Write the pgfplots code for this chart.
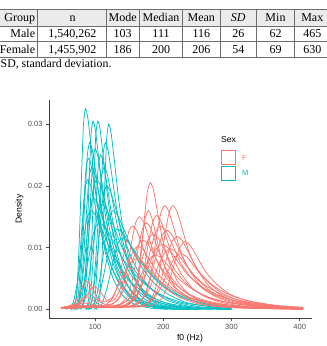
\documentclass[border=0pt]{standalone}
\usepackage{fontspec}
\setmainfont{Liberation Serif}
\setsansfont{Liberation Sans}
\usepackage{pgfplots}
\pgfplotsset{compat=1.18}
\definecolor{fcol}{HTML}{F8766D}
\definecolor{mcol}{HTML}{00BFC4}
\definecolor{ticktxt}{HTML}{4D4D4D}
\definecolor{tablerule}{HTML}{6E6E6E}
\begin{document}
\begin{tikzpicture}
\useasboundingbox (0,0) rectangle (327pt,-346pt);

% ---------------- summary table ----------------
\fill[gray!16] (-5pt,-9.3pt) rectangle (335pt,-26pt);
\draw[tablerule, line width=1.1pt] (-5pt,-9.3pt) -- (335pt,-9.3pt);
\draw[tablerule, line width=0.8pt] (-5pt,-26pt) -- (335pt,-26pt);
\draw[tablerule, line width=0.8pt] (-5pt,-41.7pt) -- (335pt,-41.7pt);
\draw[tablerule, line width=1.1pt] (-5pt,-57.3pt) -- (335pt,-57.3pt);
\foreach \vx in {37.3,106,139.3,182.7,220,256.7,294.3}
  \draw[tablerule, line width=0.8pt] (\vx pt,-9.3pt) -- (\vx pt,-57.3pt);
\begin{scope}[every node/.style={font=\fontsize{12}{14}\selectfont, inner sep=0pt}]
\node[anchor=base east] at (35.3pt,-21.7pt) {Group};
\node[anchor=base east] at (35.3pt,-37.5pt) {Male};
\node[anchor=base east] at (35.3pt,-53.8pt) {Female};
\foreach \cx/\h/\m/\f in {72.5/n/{1,540,262}/{1,455,902}, 122.7/Mode/103/186,
    161/Median/111/200, 201.3/Mean/116/206, 238.3/\textit{SD}/26/54,
    275.5/Min/62/69, 312.3/Max/465/630}{
  \node[anchor=base] at (\cx pt,-21.7pt) {\h};
  \node[anchor=base] at (\cx pt,-37.5pt) {\m};
  \node[anchor=base] at (\cx pt,-53.8pt) {\f};
}
\end{scope}
\node[anchor=base west, inner sep=0pt, font=\fontsize{11.8}{14}\selectfont]
  at (0.5pt,-67pt) {SD, standard deviation.};

% ---------------- density plot ----------------
\begin{axis}[
  at={(49pt,-318pt)}, anchor=south west,
  scale only axis, width=263pt, height=218pt,
  xmin=32.5, xmax=418, ymin=-0.0014, ymax=0.0339,
  axis lines=left,
  axis line style={-, draw=black!75, line width=0.6pt},
  xtick={100,200,300,400},
  ytick={0,0.01,0.02,0.03},
  scaled y ticks=false,
  y tick label style={/pgf/number format/fixed,
    /pgf/number format/fixed zerofill,
    /pgf/number format/precision=2},
  tick align=outside, major tick length=3pt,
  tick style={black!70, line width=0.5pt},
  /pgf/number format/assume math mode=true,
  tick label style={font=\fontsize{7.5}{9}\selectfont\sffamily, text=ticktxt},
  every axis plot/.append style={line width=0.75pt, smooth, tension=0.35},
]
% male speakers
\addplot[mcol] coordinates {(68,0) (72.8,0.0020) (76.4,0.0098) (80,0.0211) (83,0.0299) (86,0.0325) (89.6,0.0309) (94.4,0.0260) (100.4,0.0195) (107.6,0.0137) (116,0.0088) (126.8,0.0049) (140,0.0023) (158,0.0008) (182,0.0002) (206,0)};
\addplot[mcol] coordinates {(79,0) (83.8,0.0018) (87.4,0.0092) (91,0.0198) (94,0.0281) (97,0.0305) (100.6,0.0290) (105.4,0.0244) (111.4,0.0183) (118.6,0.0128) (127,0.0082) (137.8,0.0046) (151,0.0021) (169,0.0008) (193,0.0002) (217,0)};
\addplot[mcol] coordinates {(86,0) (90.8,0.0018) (94.4,0.0092) (98,0.0198) (101,0.0281) (104,0.0305) (107.6,0.0290) (112.4,0.0244) (118.4,0.0183) (125.6,0.0128) (134,0.0082) (144.8,0.0046) (158,0.0021) (176,0.0008) (200,0.0002) (224,0)};
\addplot[mcol] coordinates {(102,0) (106.8,0.0018) (110.4,0.0090) (114,0.0195) (117,0.0276) (120,0.0300) (123.6,0.0285) (128.4,0.0240) (134.4,0.0180) (141.6,0.0126) (150,0.0081) (160.8,0.0045) (174,0.0021) (192,0.0008) (216,0.0002) (240,0)};
\addplot[mcol] coordinates {(71,0) (76.6,0.0016) (80.8,0.0081) (85,0.0176) (88.5,0.0248) (92,0.0270) (96.2,0.0257) (101.8,0.0216) (108.8,0.0162) (117.2,0.0113) (127,0.0073) (139.6,0.0041) (155,0.0019) (176,0.0007) (204,0.0002) (232,0)};
\addplot[mcol] coordinates {(79,0) (84.6,0.0016) (88.8,0.0078) (93,0.0169) (96.5,0.0239) (100,0.0260) (104.2,0.0247) (109.8,0.0208) (116.8,0.0156) (125.2,0.0109) (135,0.0070) (147.6,0.0039) (163,0.0018) (184,0.0007) (212,0.0002) (240,0)};
\addplot[mcol] coordinates {(87,0) (92.6,0.0015) (96.8,0.0075) (101,0.0163) (104.5,0.0230) (108,0.0250) (112.2,0.0238) (117.8,0.0200) (124.8,0.0150) (133.2,0.0105) (143,0.0068) (155.6,0.0038) (171,0.0018) (192,0.0006) (220,0.0002) (248,0)};
\addplot[mcol] coordinates {(69,0) (74.6,0.0015) (78.8,0.0074) (83,0.0159) (86.5,0.0225) (90,0.0245) (94.2,0.0233) (99.8,0.0196) (106.8,0.0147) (115.2,0.0103) (125,0.0066) (137.6,0.0037) (153,0.0017) (174,0.0006) (202,0.0001) (230,0)};
\addplot[mcol] coordinates {(94,0) (99.6,0.0016) (103.8,0.0081) (108,0.0176) (111.5,0.0248) (115,0.0270) (119.2,0.0257) (124.8,0.0216) (131.8,0.0162) (140.2,0.0113) (150,0.0073) (162.6,0.0041) (178,0.0019) (199,0.0007) (227,0.0002) (255,0)};
\addplot[mcol] coordinates {(71,0) (77.4,0.0014) (82.2,0.0069) (87,0.0150) (91,0.0212) (95,0.0230) (99.8,0.0219) (106.2,0.0184) (114.2,0.0138) (123.8,0.0097) (135,0.0062) (149.4,0.0035) (167,0.0016) (191,0.0006) (223,0.0001) (255,0)};
\addplot[mcol] coordinates {(89,0) (95.4,0.0014) (100.2,0.0069) (105,0.0150) (109,0.0212) (113,0.0230) (117.8,0.0219) (124.2,0.0184) (132.2,0.0138) (141.8,0.0097) (153,0.0062) (167.4,0.0035) (185,0.0016) (209,0.0006) (241,0.0001) (273,0)};
\addplot[mcol] coordinates {(65,0) (71.4,0.0013) (76.2,0.0063) (81,0.0137) (85,0.0193) (89,0.0210) (93.8,0.0200) (100.2,0.0168) (108.2,0.0126) (117.8,0.0088) (129,0.0057) (143.4,0.0032) (161,0.0015) (185,0.0005) (217,0.0001) (249,0)};
\addplot[mcol] coordinates {(72,0) (80,0.0013) (86,0.0063) (92,0.0137) (97,0.0193) (102,0.0210) (108,0.0200) (116,0.0168) (126,0.0126) (138,0.0088) (152,0.0057) (170,0.0032) (192,0.0015) (222,0.0005) (262,0.0001) (300,0)};
\addplot[mcol] coordinates {(87,0) (95,0.0012) (101,0.0060) (107,0.0130) (112,0.0184) (117,0.0200) (123,0.0190) (131,0.0160) (141,0.0120) (153,0.0084) (167,0.0054) (185,0.0030) (207,0.0014) (237,0.0005) (277,0.0001) (300,0)};
\addplot[mcol] coordinates {(68,0) (76,0.0011) (82,0.0054) (88,0.0117) (93,0.0166) (98,0.0180) (104,0.0171) (112,0.0144) (122,0.0108) (134,0.0076) (148,0.0049) (166,0.0027) (188,0.0013) (218,0.0005) (258,0.0001) (298,0)};
\addplot[mcol] coordinates {(74,0) (83.6,0.0010) (90.8,0.0051) (98,0.0111) (104,0.0156) (110,0.0170) (117.2,0.0162) (126.8,0.0136) (138.8,0.0102) (153.2,0.0071) (170,0.0046) (191.6,0.0026) (218,0.0012) (254,0.0004) (300,0.0001)};
\addplot[mcol] coordinates {(90,0) (99.6,0.0010) (106.8,0.0048) (114,0.0104) (120,0.0147) (126,0.0160) (133.2,0.0152) (142.8,0.0128) (154.8,0.0096) (169.2,0.0067) (186,0.0043) (207.6,0.0024) (234,0.0011) (270,0.0004) (300,0.0001)};
\addplot[mcol] coordinates {(58,0) (67.6,0.0010) (74.8,0.0048) (82,0.0104) (88,0.0147) (94,0.0160) (101.2,0.0152) (110.8,0.0128) (122.8,0.0096) (137.2,0.0067) (154,0.0043) (175.6,0.0024) (202,0.0011) (238,0.0004) (286,0.0001)};
\addplot[mcol] coordinates {(64,0) (75.2,0.0008) (83.6,0.0042) (92,0.0091) (99,0.0129) (106,0.0140) (114.4,0.0133) (125.6,0.0112) (139.6,0.0084) (156.4,0.0059) (176,0.0038) (201.2,0.0021) (232,0.0010) (274,0.0004) (300,0.0001)};
\addplot[mcol] coordinates {(90,0) (101.2,0.0008) (109.6,0.0039) (118,0.0085) (125,0.0120) (132,0.0130) (140.4,0.0124) (151.6,0.0104) (165.6,0.0078) (182.4,0.0055) (202,0.0035) (227.2,0.0020) (258,0.0009) (300,0.0003)};
\addplot[mcol] coordinates {(98,0) (109.2,0.0007) (117.6,0.0035) (126,0.0075) (133,0.0106) (140,0.0115) (148.4,0.0109) (159.6,0.0092) (173.6,0.0069) (190.4,0.0048) (210,0.0031) (235.2,0.0017) (266,0.0008) (300,0.0003)};
% female speakers
\addplot[fcol] coordinates {(50,0.0002) (100,0.0003) (139,0.0003) (151,0.0010) (160,0.0031) (166,0.0072) (172,0.0144) (176.8,0.0191) (181,0.0205) (185.8,0.0193) (191.8,0.0156) (199,0.0113) (208,0.0078) (220,0.0047) (235,0.0027) (253,0.0014) (277,0.0006) (300,0.0004) (350,0.0002) (405,0.0001)};
\addplot[fcol] coordinates {(52,0.0002) (95,0.0004) (136,0.0003) (148,0.0008) (157,0.0024) (163,0.0056) (169,0.0112) (173.8,0.0149) (178,0.0160) (182.8,0.0150) (188.8,0.0122) (196,0.0088) (205,0.0061) (217,0.0037) (232,0.0021) (250,0.0011) (274,0.0005) (300,0.0004) (350,0.0002) (405,0.0001)};
\addplot[fcol] coordinates {(55,0.0002) (110,0.0004) (146,0.0004) (162,0.0008) (174,0.0025) (182,0.0059) (190,0.0118) (196.4,0.0156) (202,0.0168) (208.4,0.0158) (216.4,0.0128) (226,0.0092) (238,0.0064) (254,0.0039) (274,0.0022) (298,0.0012) (330,0.0005) (362,0.0002) (405,0.0001)};
\addplot[fcol] coordinates {(58,0.0002) (120,0.0005) (158,0.0004) (174,0.0008) (186,0.0025) (194,0.0059) (202,0.0118) (208.4,0.0156) (214,0.0168) (220.4,0.0158) (228.4,0.0128) (238,0.0092) (250,0.0064) (266,0.0039) (286,0.0022) (310,0.0012) (342,0.0005) (374,0.0002) (405,0.0001)};
\addplot[fcol] coordinates {(50,0.0003) (100,0.0005) (134,0.0004) (150,0.0008) (162,0.0023) (170,0.0053) (178,0.0106) (184.4,0.0141) (190,0.0152) (196.4,0.0143) (204.4,0.0116) (214,0.0084) (226,0.0058) (242,0.0035) (262,0.0020) (286,0.0011) (318,0.0005) (350,0.0002) (405,0.0001)};
\addplot[fcol] coordinates {(54,0.0002) (90,0.0006) (119,0.0005) (135,0.0007) (147,0.0021) (155,0.0049) (163,0.0098) (169.4,0.0130) (175,0.0140) (181.4,0.0132) (189.4,0.0106) (199,0.0077) (211,0.0053) (227,0.0032) (247,0.0018) (271,0.0010) (303,0.0004) (335,0.0002) (405,0.0001)};
\addplot[fcol] coordinates {(50,0.0002) (75,0.0007) (99,0.0004) (115,0.0007) (127,0.0020) (135,0.0047) (143,0.0095) (149.4,0.0126) (155,0.0135) (161.4,0.0127) (169.4,0.0103) (179,0.0074) (191,0.0051) (207,0.0031) (227,0.0018) (251,0.0009) (283,0.0004) (315,0.0002) (360,0.0001) (405,0)};
\addplot[fcol] coordinates {(56,0.0002) (85,0.0010) (109,0.0005) (125,0.0008) (137,0.0023) (145,0.0053) (153,0.0105) (159.4,0.0140) (165,0.0150) (171.4,0.0141) (179.4,0.0114) (189,0.0083) (201,0.0057) (217,0.0035) (237,0.0020) (261,0.0011) (293,0.0005) (325,0.0002) (405,0.0001)};
\addplot[fcol] coordinates {(52,0.0002) (95,0.0005) (126,0.0004) (146,0.0007) (161,0.0020) (171,0.0047) (181,0.0095) (189,0.0126) (196,0.0135) (204,0.0127) (214,0.0103) (226,0.0074) (241,0.0051) (261,0.0031) (286,0.0018) (316,0.0009) (356,0.0004) (405,0.0002)};
\addplot[fcol] coordinates {(55,0.0002) (100,0.0004) (135,0.0004) (155,0.0006) (170,0.0019) (180,0.0045) (190,0.0090) (198,0.0119) (205,0.0128) (213,0.0120) (223,0.0097) (235,0.0070) (250,0.0049) (270,0.0029) (295,0.0017) (325,0.0009) (365,0.0004) (405,0.0002)};
\addplot[fcol] coordinates {(50,0.0003) (85,0.0006) (115,0.0004) (135,0.0006) (150,0.0018) (160,0.0043) (170,0.0085) (178,0.0113) (185,0.0122) (193,0.0115) (203,0.0093) (215,0.0067) (230,0.0046) (250,0.0028) (275,0.0016) (305,0.0009) (345,0.0004) (385,0.0001) (405,0.0001)};
\addplot[fcol] coordinates {(60,0.0002) (115,0.0004) (150,0.0004) (170,0.0006) (185,0.0018) (195,0.0041) (205,0.0083) (213,0.0110) (220,0.0118) (228,0.0111) (238,0.0090) (250,0.0065) (265,0.0045) (285,0.0027) (310,0.0015) (340,0.0008) (380,0.0004) (405,0.0002)};
\addplot[fcol] coordinates {(50,0.0002) (70,0.0006) (82,0.0018) (92,0.0025) (102,0.0016) (115,0.0008) (125,0.0009) (135,0.0017) (145,0.0039) (155,0.0078) (163,0.0104) (170,0.0112) (178,0.0105) (188,0.0085) (200,0.0062) (215,0.0043) (235,0.0026) (260,0.0015) (290,0.0008) (330,0.0003) (370,0.0001) (405,0.0001)};
\addplot[fcol] coordinates {(50,0.0002) (72,0.0005) (85,0.0018) (93,0.0032) (100,0.0037) (108,0.0028) (118,0.0014) (128,0.0015) (138,0.0036) (148,0.0071) (156,0.0095) (163,0.0102) (171,0.0096) (181,0.0078) (193,0.0056) (208,0.0039) (228,0.0023) (253,0.0013) (283,0.0007) (323,0.0003) (363,0.0001) (405,0)};
\addplot[fcol] coordinates {(60,0.0002) (120,0.0004) (162,0.0004) (182,0.0006) (197,0.0017) (207,0.0039) (217,0.0077) (225,0.0102) (232,0.0110) (240,0.0103) (250,0.0084) (262,0.0061) (277,0.0042) (297,0.0025) (322,0.0014) (352,0.0008) (380,0.0004) (405,0.0003)};
\addplot[fcol] coordinates {(52,0.0002) (90,0.0005) (114,0.0004) (138,0.0005) (156,0.0016) (168,0.0037) (180,0.0074) (189.6,0.0098) (198,0.0105) (207.6,0.0099) (219.6,0.0080) (234,0.0058) (252,0.0040) (276,0.0024) (306,0.0014) (342,0.0007) (390,0.0003) (405,0.0003)};
\addplot[fcol] coordinates {(55,0.0002) (100,0.0005) (126,0.0004) (150,0.0005) (168,0.0015) (180,0.0034) (192,0.0069) (201.6,0.0091) (210,0.0098) (219.6,0.0092) (231.6,0.0074) (246,0.0054) (264,0.0037) (288,0.0023) (318,0.0013) (354,0.0007) (402,0.0003)};
\addplot[fcol] coordinates {(58,0.0002) (110,0.0004) (141,0.0004) (165,0.0005) (183,0.0014) (195,0.0032) (207,0.0063) (216.6,0.0084) (225,0.0090) (234.6,0.0085) (246.6,0.0068) (261,0.0050) (279,0.0034) (303,0.0021) (333,0.0012) (369,0.0006) (405,0.0003)};
\addplot[fcol] coordinates {(50,0.0003) (75,0.0009) (88,0.0020) (98,0.0014) (110,0.0006) (128,0.0006) (146,0.0013) (158,0.0031) (170,0.0062) (179.6,0.0082) (188,0.0088) (197.6,0.0083) (209.6,0.0067) (224,0.0048) (242,0.0033) (266,0.0020) (296,0.0011) (332,0.0006) (380,0.0003) (405,0.0002)};
\addplot[fcol] coordinates {(52,0.0003) (68,0.0008) (78,0.0028) (86,0.0047) (94,0.0038) (104,0.0018) (114,0.0012) (124,0.0018) (130,0.0029) (142,0.0057) (151.6,0.0076) (160,0.0082) (169.6,0.0077) (181.6,0.0062) (196,0.0045) (214,0.0031) (238,0.0019) (268,0.0011) (304,0.0006) (352,0.0002) (400,0.0001)};
\end{axis}

% axis titles
\node[rotate=90, font=\fontsize{8.6}{10}\selectfont\sffamily] at (19.5pt,-209pt) {Density};
\node[font=\fontsize{8.6}{10}\selectfont\sffamily] at (190pt,-338pt) {f0 (Hz)};

% legend
\node[anchor=west, inner sep=0pt, font=\fontsize{8.6}{10}\selectfont\sffamily] at (221pt,-140pt) {Sex};
\draw[fcol, line width=0.7pt] (221.5pt,-150.5pt) rectangle (235.5pt,-164.5pt);
\draw[mcol, line width=0.7pt] (221.5pt,-166pt) rectangle (235.5pt,-180pt);
\node[anchor=west, inner sep=0pt, text=fcol, font=\fontsize{7.5}{9}\selectfont\sffamily] at (242pt,-157.5pt) {F};
\node[anchor=west, inner sep=0pt, text=mcol, font=\fontsize{7.5}{9}\selectfont\sffamily] at (242pt,-173pt) {M};
\end{tikzpicture}
\end{document}
